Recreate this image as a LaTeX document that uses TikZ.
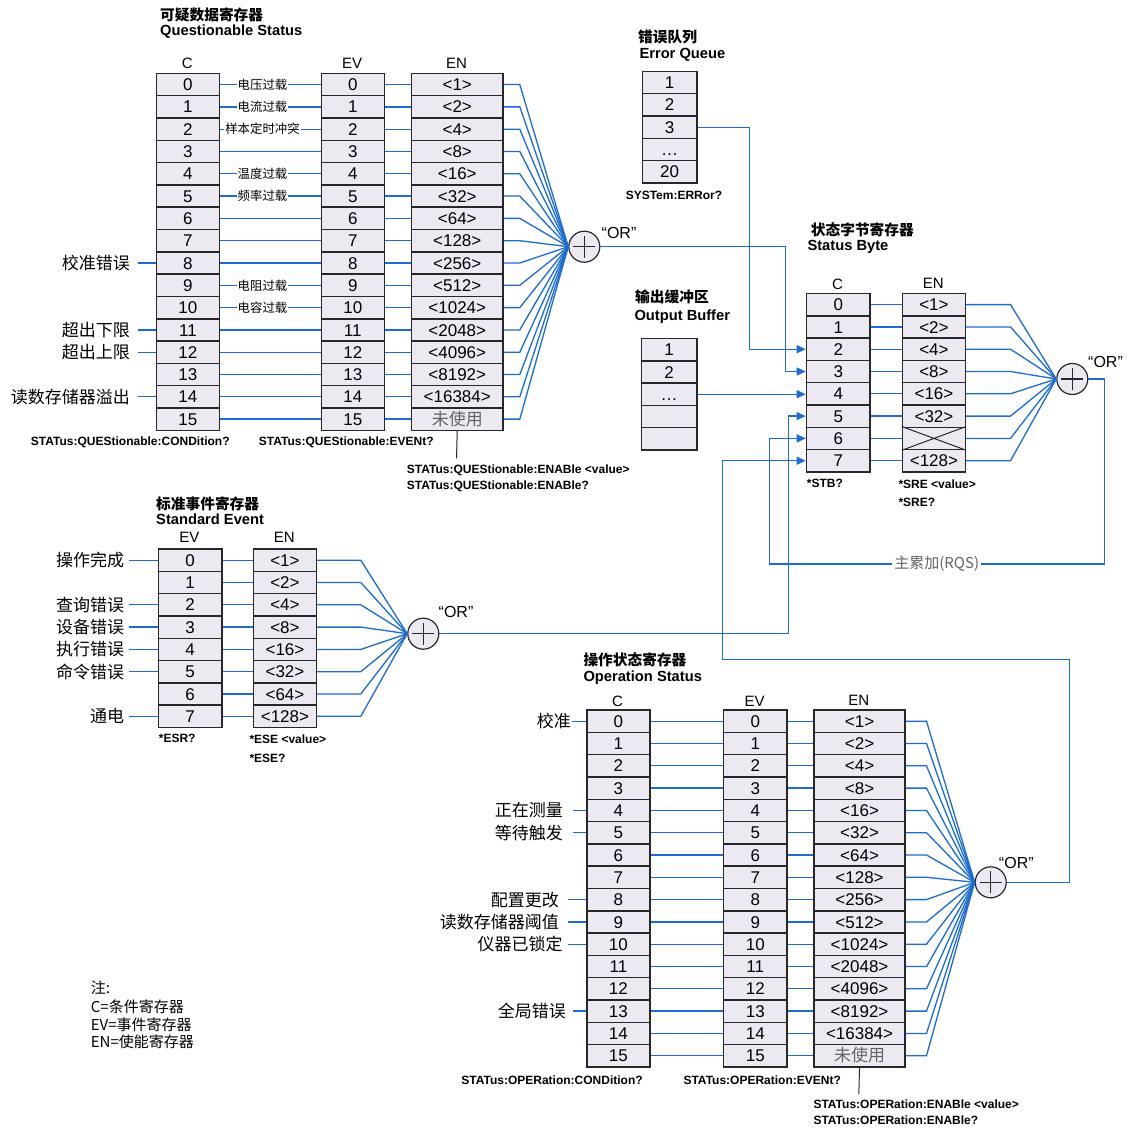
\documentclass[tikz,border=0pt]{standalone}
\usepackage{fontspec}
\setmainfont{Liberation Sans}
\newfontfamily\cjk{Noto Sans CJK SC}
\usetikzlibrary{arrows.meta}
\definecolor{cfill}{RGB}{236,233,242}
\definecolor{cdraw}{RGB}{40,40,40}
\definecolor{lblue}{RGB}{28,108,214}
\definecolor{tgray}{RGB}{100,100,100}
\newcommand\regcol[5]{%
  \foreach \itm [count=\k from 0] in {#5}{%
    \node[cell, minimum width={(#3)-(#2)}] (#1-\k) at (#2,{#4+22.3*\k}) {\itm};
  }%
}
\newcommand\orgate[3]{%
  \node[orc] (#1) at (#2,#3) {};
  \draw[cdraw, line width=1.1pt] ([xshift=-11pt]#1.center) -- ([xshift=11pt]#1.center)
    ([yshift=-11pt]#1.center) -- ([yshift=11pt]#1.center);
}
\begin{document}
\begin{tikzpicture}[x=1pt,y=-1pt,
 cell/.style={draw=cdraw, fill=cfill, line width=1.5pt, minimum height=22.3pt, inner sep=0pt, text height=12.2pt, text depth=0pt, anchor=north west, font=\fontsize{17}{17}\selectfont},
 orc/.style={circle, draw=cdraw, fill=cfill, line width=1.2pt, minimum size=31pt, inner sep=0pt},
 wire/.style={draw=lblue, line width=1.3pt},
 arr/.style={wire, -{Triangle[length=9pt,width=8pt]}},
 ttl/.style={anchor=west, inner sep=0pt, font=\fontsize{14.7}{16}\selectfont\bfseries},
 cttl/.style={anchor=west, inner sep=0pt, font=\cjk\fontsize{14.7}{16}\selectfont\bfseries},
 hdr/.style={inner sep=0pt, font=\fontsize{15}{15}\selectfont},
 cmd/.style={inner sep=0pt, font=\fontsize{12}{12}\selectfont\bfseries},
 midlab/.style={fill=white, inner xsep=1pt, inner ysep=0pt, font=\cjk\fontsize{12.4}{12.4}\selectfont},
 leftlab/.style={anchor=east, inner ysep=0pt, font=\cjk\fontsize{17}{17}\selectfont},
 orlab/.style={inner sep=0pt, font=\fontsize{16}{16}\selectfont},
 note/.style={anchor=west, inner sep=0pt, font=\cjk\fontsize{15}{15}\selectfont}]
\useasboundingbox[fill=white] (0,0) rectangle (1131,1131);

% ---------------- Questionable Status ----------------
\node[cttl] (qt1) at (160,15) {可疑数据寄存器};
\node[ttl] (qt2) at (160,32) {Questionable Status};
\node[hdr] (qh1) at (187.2,63.3) {C};
\node[hdr] (qh2) at (352,63.3) {EV};
\node[hdr] (qh3) at (456.5,63.3) {EN};
\regcol{qc}{155.7}{218.7}{72.7}{0,...,15}
\regcol{qv}{320.5}{383.5}{72.7}{0,...,15}
\regcol{qe}{410.7}{502.3}{72.7}{<1>,<2>,<4>,<8>,<16>,<32>,<64>,<128>,<256>,<512>,<1024>,<2048>,<4096>,<8192>,<16384>,{\textcolor{tgray}{\cjk 未使用}}}
\orgate{qor}{584.3}{246.7}
\node[orlab] (qorl) at (619,233) {“OR”};
\foreach \i in {0,...,15}{
  \draw[wire] (qc-\i.east) -- (qv-\i.west);
  \draw[wire] (qv-\i.east) -- (qe-\i.west);
  \draw[wire] (qe-\i.east) -- ++(16,0) -- (qor.west);
}
\foreach \i/\l in {0/电压过载,1/电流过载,2/样本定时冲突,4/温度过载,5/频率过载,9/电阻过载,10/电容过载}{
  \node[midlab] (qm\i) at ([xshift=42.3pt]qc-\i.east) {\l};
}
\foreach \i/\l in {8/校准错误,11/超出下限,12/超出上限,14/读数存储器溢出}{
  \node[leftlab, inner xsep=7.7pt] (ql\i) at ([xshift=-18pt]qc-\i.west) {\l};
  \draw[wire] (ql\i.east) -- (qc-\i.west);
}
\node[cmd] (qcmd1) at (130.3,442.3) {STATus:QUEStionable:CONDition?};
\node[cmd] (qcmd2) at (346.3,442.3) {STATus:QUEStionable:EVENt?};
\coordinate (qenq) at (456.5,458.3);
\draw[cdraw, line width=1pt] (qe-15.south) -- (qenq);
\node[cmd, anchor=west] (qcmd3) at (406.7,470) {STATus:QUEStionable:ENABle <value>};
\node[cmd, anchor=west] (qcmd4) at (406.7,486.7) {STATus:QUEStionable:ENABle?};

% ---------------- Error Queue ----------------
\node[cttl] (et1) at (638,36.5) {错误队列};
\node[ttl] (et2) at (639.3,55) {Error Queue};
\regcol{eq}{641.7}{696}{70.7}{1,2,3,\ldots,20}
\node[cmd] (ecmd) at (674,195) {SYSTem:ERRor?};

% ---------------- Output Buffer ----------------
\node[cttl] (ot1) at (635,296.7) {输出缓冲区};
\node[ttl] (ot2) at (634.3,316.7) {Output Buffer};
\regcol{ob}{640.7}{696}{337.7}{1,2,\ldots,{},{}}

% ---------------- Status Byte ----------------
\node[cttl] (st1) at (810.7,230) {状态字节寄存器};
\node[ttl] (st2) at (807.3,246.7) {Status Byte};
\node[hdr] (sh1) at (837.5,284.3) {C};
\node[hdr] (sh2) at (933.2,283.5) {EN};
\regcol{sbc}{805.7}{869.3}{292.7}{0,...,7}
\regcol{sbe}{901.7}{964.7}{292.7}{<1>,<2>,<4>,<8>,<16>,<32>,{},<128>}
\draw[cdraw, line width=1pt] (sbe-6.north west) -- (sbe-6.south east) (sbe-6.south west) -- (sbe-6.north east);
\orgate{sbor}{1072.3}{379}
\node[orlab] (sborl) at (1105.5,361.7) {“OR”};
\foreach \i in {0,...,7}{
  \draw[wire] (sbc-\i.east) -- (sbe-\i.west);
  \draw[wire] (sbe-\i.east) -- ++(44.3,0) -- (sbor.west);
}
\node[cmd, anchor=west] (scmd1) at (806.7,483.7) {*STB?};
\node[cmd, anchor=west] (scmd2) at (898.3,484.3) {*SRE <value>};
\node[cmd, anchor=west] (scmd3) at (898.3,502.3) {*SRE?};

% ---------------- Standard Event ----------------
\node[cttl] (et1) at (156,504) {标准事件寄存器};
\node[ttl] (et2) at (156,519) {Standard Event};
\node[hdr] (eh1) at (189.4,537.3) {EV};
\node[hdr] (eh2) at (284.2,537.3) {EN};
\regcol{sev}{157.7}{221}{548.3}{0,...,7}
\regcol{sen}{252.7}{315.7}{548.3}{<1>,<2>,<4>,<8>,<16>,<32>,<64>,<128>}
\orgate{sor}{423.3}{633.7}
\node[orlab] (sorl) at (456,612) {“OR”};
\foreach \i in {0,...,7}{
  \draw[wire] (sev-\i.east) -- (sen-\i.west);
  \draw[wire] (sen-\i.east) -- ++(43.6,0) -- (sor.west);
}
\foreach \i/\l in {0/操作完成,2/查询错误,3/设备错误,4/执行错误,5/命令错误,7/通电}{
  \node[leftlab, inner xsep=5pt] (sl\i) at ([xshift=-28.4pt]sev-\i.west) {\l};
  \draw[wire] (sl\i.east) -- (sev-\i.west);
}
\node[cmd, anchor=west] (ecmd1) at (158.7,738.7) {*ESR?};
\node[cmd, anchor=west] (ecmd2) at (249.3,739.3) {*ESE <value>};
\node[cmd, anchor=west] (ecmd3) at (249.3,758.3) {*ESE?};

% ---------------- Operation Status ----------------
\node[cttl] (pt1) at (583.3,660) {操作状态寄存器};
\node[ttl] (pt2) at (583.3,677.7) {Operation Status};
\node[hdr] (ph1) at (617.6,701) {C};
\node[hdr] (ph2) at (754.5,701) {EV};
\node[hdr] (ph3) at (858.8,700) {EN};
\regcol{opc}{586}{649.3}{709.3}{0,...,15}
\regcol{opv}{722.7}{786.3}{709.3}{0,...,15}
\regcol{ope}{813.3}{904.3}{709.3}{<1>,<2>,<4>,<8>,<16>,<32>,<64>,<128>,<256>,<512>,<1024>,<2048>,<4096>,<8192>,<16384>,{\textcolor{tgray}{\cjk 未使用}}}
\orgate{oor}{990.7}{882.3}
\node[orlab] (oorl) at (1016.3,862.7) {“OR”};
\foreach \i in {0,...,15}{
  \draw[wire] (opc-\i.east) -- (opv-\i.west);
  \draw[wire] (opv-\i.east) -- (ope-\i.west);
  \draw[wire] (ope-\i.east) -- ++(20.7,0) -- (oor.west);
}
\foreach \i/\l/\s/\g in {0/校准/14/1,4/正在测量/13.3/9.7,5/等待触发/13.3/9.7,8/配置更改/17.7/9.3,9/读数存储器阈值/17.7/9.3,10/仪器已锁定/17.7/5.6,13/全局错误/13.3/6.7}{
  \node[leftlab, inner xsep=\g pt] (pl\i) at ([xshift=-\s pt]opc-\i.west) {\l};
  \draw[wire] (pl\i.east) -- (opc-\i.west);
}
\node[cmd] (pcmd1) at (552,1080) {STATus:OPERation:CONDition?};
\node[cmd] (pcmd2) at (762.2,1080) {STATus:OPERation:EVENt?};
\coordinate (openq) at (858.8,1094);
\draw[cdraw, line width=1pt] (ope-15.south) -- (openq);
\node[cmd, anchor=west] (pcmd3) at (813.3,1104) {STATus:OPERation:ENABle <value>};
\node[cmd, anchor=west] (pcmd4) at (813.3,1120) {STATus:OPERation:ENABle?};

% ---------------- Connections into Status Byte ----------------
\draw[arr] (eq-2.east) -| ([xshift=-56pt]sbc-2.west) -- (sbc-2.west);
\draw[arr] (qor.east) -| ([xshift=-20.4pt]sbc-3.west) -- (sbc-3.west);
\draw[arr] (ob-2.east) -- (ob-2.east -| sbc-4.west);
\draw[arr] (sor.east) -| ([xshift=-17.4pt]sbc-5.west) -- (sbc-5.west);
\coordinate (rqs) at (1104.3,564);
\draw[arr] (sbor.east) -| (rqs) -| ([xshift=-36pt]sbc-6.west) -- (sbc-6.west);
\node[fill=white, inner xsep=2pt, inner ysep=0pt, text=tgray, font=\cjk\fontsize{15}{15}\selectfont] (rqsl) at (936.7,564) {主累加(RQS)};
\coordinate (opturn) at (1069.7,659.3);
\draw[arr] (oor.east) -| (opturn) -| ([xshift=-83.4pt]sbc-7.west) -- (sbc-7.west);

% ---------------- Notes ----------------
\node[note] (n1) at (90.7,987.7) {注:};
\node[note] (n2) at (90.7,1006.3) {C=条件寄存器};
\node[note] (n3) at (90.7,1024.5) {EV=事件寄存器};
\node[note] (n4) at (90.7,1042) {EN=使能寄存器};
\end{tikzpicture}
\end{document}
